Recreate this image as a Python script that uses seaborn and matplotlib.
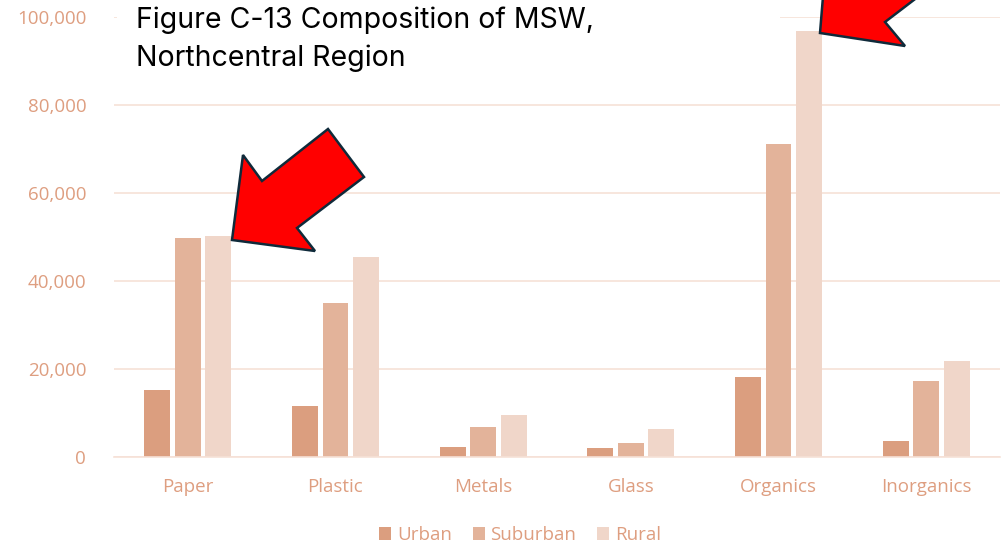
import matplotlib
matplotlib.use("Agg")
import matplotlib.pyplot as plt
import seaborn as sns
import pandas as pd
from matplotlib.patches import Polygon, Rectangle
from matplotlib.ticker import FuncFormatter

categories = ["Paper", "Plastic", "Metals", "Glass", "Organics", "Inorganics"]
series = ["Urban", "Suburban", "Rural"]
urban = [15200, 11600, 2300, 2000, 18200, 3600]
suburban = [49800, 35000, 6800, 3200, 71100, 17200]
rural = [50200, 45400, 9500, 6400, 96800, 21800]
yticks = [0, 20000, 40000, 60000, 80000, 100000]
title_text = "Figure C-13 Composition of MSW,\nNorthcentral Region"

colors = ["#DB9E7F", "#E3B39A", "#F0D6C9"]
text_color = "#DE9E80"
grid_color = "#F6E1D7"

rows = []
for name, vals in zip(series, [urban, suburban, rural]):
    for c, v in zip(categories, vals):
        rows.append({"Material": c, "Area": name, "Tons": v})
df = pd.DataFrame(rows)

sns.set_theme(style="white")
plt.rcParams["font.family"] = ["Open Sans", "DejaVu Sans"]

W, H = 1004, 544
fig = plt.figure(figsize=(W / 100, H / 100), dpi=100)
ax = fig.add_axes([114 / W, 1 - 457 / H, (1000 - 114) / W, (457 - 17) / H])

sns.barplot(data=df, x="Material", y="Tons", hue="Area", order=categories,
            hue_order=series, palette=colors, saturation=1, width=0.62, gap=0.15,
            linewidth=0, errorbar=None, ax=ax, legend=True)

ax.set_ylim(0, 100000)
ax.set_xlim(-0.5, len(categories) - 0.5)
ax.set_yticks(yticks)
ax.yaxis.set_major_formatter(FuncFormatter(lambda v, p: f"{int(v):,}"))
ax.set_xlabel("")
ax.set_ylabel("")
ax.yaxis.grid(True, color=grid_color, linewidth=1.2)
ax.set_axisbelow(True)
for s in ["top", "right", "left"]:
    ax.spines[s].set_visible(False)
ax.spines["bottom"].set_color(grid_color)
ax.spines["bottom"].set_linewidth(1.2)
ax.tick_params(axis="both", length=0, colors=text_color, labelsize=13.5)
ax.tick_params(axis="y", pad=20)
ax.tick_params(axis="x", pad=15)

handles, labels = ax.get_legend_handles_labels()
ax.get_legend().remove()
fig.legend(handles, labels, loc="center", bbox_to_anchor=(520 / W, 1 - 535 / H),
           ncol=3, frameon=False, fontsize=13.5, labelcolor=text_color,
           handlelength=0.65, handleheight=0.65, handletextpad=0.3, columnspacing=1.1)


def fx(x, y):
    return (x / W, 1 - y / H)


# white box behind title
fig.add_artist(Rectangle(fx(117, 88), (780 - 117) / W, 88 / H,
                         transform=fig.transFigure, facecolor="white",
                         edgecolor="none", zorder=5))
fig.text(136 / W, 1 - 7 / H, title_text, transform=fig.transFigure,
         ha="left", va="top", fontsize=20.5, color="black",
         family=["Inter", "DejaVu Sans"], linespacing=1.45, zorder=6)

arrow1 = [(232, 240), (243, 155), (262, 181), (328, 129), (364, 177), (297, 228), (315, 251)]
arrow2 = [(820, 33), (905, 46), (885, 22), (940, -20), (905, -60), (850, -5), (826, -40)]
for pts in (arrow1, arrow2):
    fig.add_artist(Polygon([fx(x, y) for x, y in pts], closed=True,
                           transform=fig.transFigure, facecolor="#FF0000",
                           edgecolor="#0F2A3A", linewidth=1.8, zorder=10,
                           joinstyle="miter"))

fig.savefig("out.png", dpi=100)
